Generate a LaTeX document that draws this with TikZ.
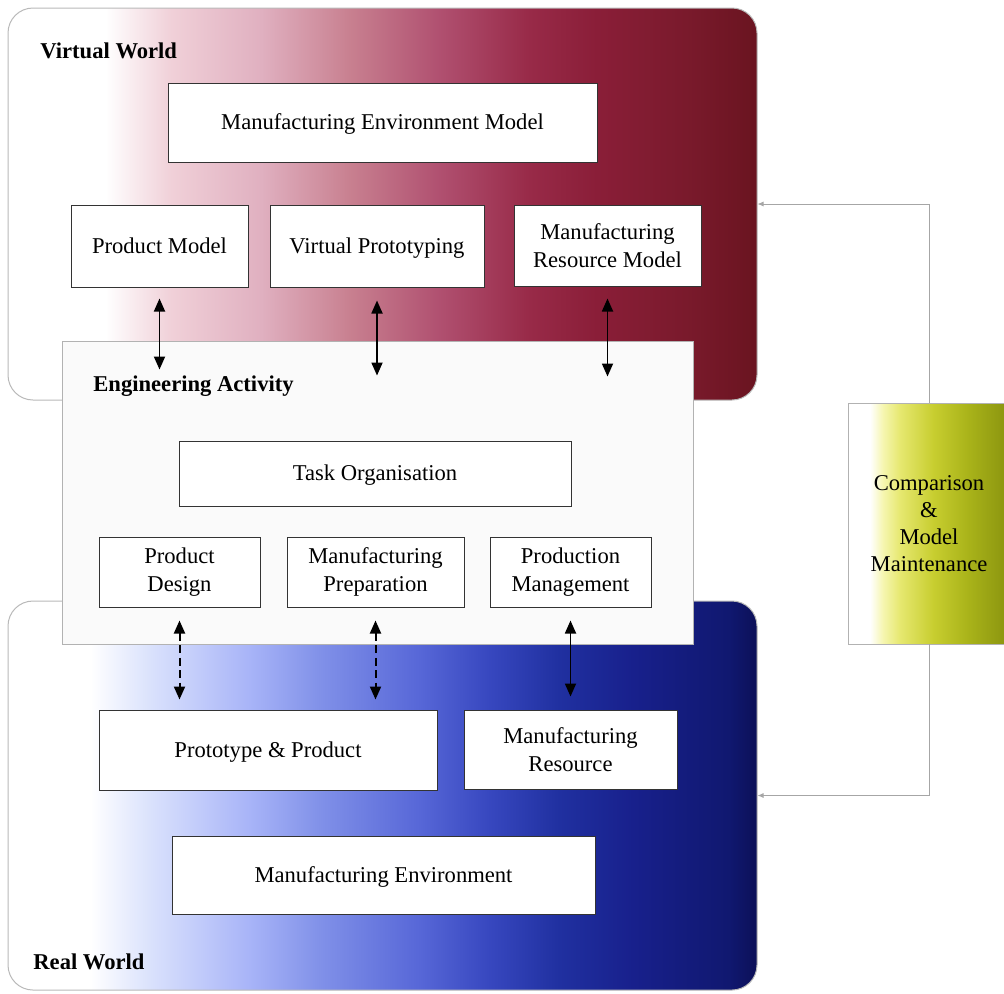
\documentclass[tikz,border=0pt]{standalone}
\usepackage{fontspec}
\setmainfont{Liberation Serif}
\usetikzlibrary{arrows.meta}

% colour ramps of the three shaded panels
\definecolor{vwA}{HTML}{F0D0D8}
\definecolor{vwB}{HTML}{E0B0C0}
\definecolor{vwC}{HTML}{C88090}
\definecolor{vwD}{HTML}{B05070}
\definecolor{vwE}{HTML}{982A48}
\definecolor{vwF}{HTML}{8A1E38}
\definecolor{vwG}{HTML}{7A1A2C}
\definecolor{vwH}{HTML}{6A1420}
\definecolor{rwA}{HTML}{D8E0FC}
\definecolor{rwB}{HTML}{A8B4F8}
\definecolor{rwC}{HTML}{8090E8}
\definecolor{rwD}{HTML}{5868D8}
\definecolor{rwE}{HTML}{3848C0}
\definecolor{rwF}{HTML}{2030A0}
\definecolor{rwG}{HTML}{18208C}
\definecolor{rwH}{HTML}{101870}
\definecolor{rwI}{HTML}{0C1058}
\definecolor{cmA}{HTML}{F6F6B0}
\definecolor{cmB}{HTML}{E6E870}
\definecolor{cmC}{HTML}{C8CE30}
\definecolor{cmD}{HTML}{AAB41A}
\definecolor{cmE}{HTML}{8E9810}
\definecolor{eaFill}{HTML}{FAFAFA}

\pgfdeclarehorizontalshading{virtualshade}{100bp}{color(0bp)=(white); color(31.5bp)=(white);
  color(35.9bp)=(vwA); color(41.9bp)=(vwB); color(47.8bp)=(vwC); color(53.8bp)=(vwD);
  color(59.8bp)=(vwE); color(64.3bp)=(vwF); color(70.2bp)=(vwG); color(75bp)=(vwH); color(100bp)=(vwH)}
\pgfdeclarehorizontalshading{realshade}{100bp}{color(0bp)=(white); color(30.5bp)=(white);
  color(34.7bp)=(rwA); color(41.1bp)=(rwB); color(45.9bp)=(rwC); color(52.3bp)=(rwD);
  color(57bp)=(rwE); color(61.8bp)=(rwF); color(66.7bp)=(rwG); color(73.1bp)=(rwH);
  color(75bp)=(rwI); color(100bp)=(rwI)}
\pgfdeclarehorizontalshading{compshade}{100bp}{color(0bp)=(white); color(31.8bp)=(white);
  color(35.8bp)=(cmA); color(41bp)=(cmB); color(51.2bp)=(cmC); color(61.7bp)=(cmD);
  color(72.8bp)=(cmE); color(100bp)=(cmE)}

\tikzset{
  every node/.style={font=\fontsize{11.3}{14}\selectfont, inner sep=0pt, align=center},
  world/.style={draw=gray!55, line width=0.5pt, rounded corners=12.5pt},
  box/.style={draw=black!80, fill=white, line width=0.5pt},
  oneline/.style={text height=0.95em, text depth=0.22em},
  title/.style={font=\fontsize{11.3}{14}\selectfont\bfseries, anchor=west},
  dbl/.style={{Triangle[length=6.5pt,width=5.5pt]}-{Triangle[length=6.5pt,width=5.5pt]}, line width=0.9pt, black},
  dashline/.style={dash pattern=on 4pt off 2.2pt, line width=1pt},
  feedback/.style={draw=gray!70, line width=0.4pt, -{Latex[length=3pt,width=2.5pt]}},
}

\begin{document}
\begin{tikzpicture}[x=0.5pt, y=-0.5pt]
\useasboundingbox (0,0) rectangle (1004,993);

% the two worlds
\node[world, shading=virtualshade, minimum width=374.5pt, minimum height=196pt] (vw) at (382.5,204) {};
\node[world, shading=realshade, minimum width=374.5pt, minimum height=194.5pt] (rw) at (382.5,795.5) {};
\node[title] (vwt) at (40,51) {Virtual World};
\node[title] (rwt) at (33,962) {Real World};

% comparison panel and its feedback loops
\node[draw=gray!60, line width=0.4pt, shading=compshade, minimum width=81pt, minimum height=120.5pt,
      font=\fontsize{11.3}{13.5}\selectfont] (cmp) at (929,523.5) {Comparison\\\&\\Model\\Maintenance};
\draw[feedback] (cmp.north) |- (vw.east);
\draw[feedback] (cmp.south) |- (rw.east);

% engineering activity layer
\node[draw=gray!60, fill=eaFill, line width=0.5pt, minimum width=315.5pt, minimum height=151.5pt] (ea) at (377.5,492.5) {};
\node[title] (eat) at (93,386) {Engineering Activity};

% virtual world models
\node[box, oneline, minimum width=214.5pt, minimum height=39.5pt] (mem) at (382.5,122.5) {Manufacturing Environment Model};
\node[box, oneline, minimum width=88.5pt, minimum height=41pt] (pm) at (159.5,246) {Product Model};
\node[box, oneline, minimum width=107pt, minimum height=41pt] (vp) at (377,246) {Virtual Prototyping};
\node[box, minimum width=93.5pt, minimum height=40.5pt] (mrm) at (607.5,245.5) {Manufacturing\\Resource Model};

% engineering tasks
\node[box, oneline, minimum width=196pt, minimum height=32.5pt] (to) at (375,473.5) {Task Organisation};
\node[box, minimum width=80.5pt, minimum height=35pt] (pd) at (179.5,572) {Product\\Design};
\node[box, minimum width=88.5pt, minimum height=35pt] (mp) at (375.5,572) {Manufacturing\\Preparation};
\node[box, minimum width=80.5pt, minimum height=35pt] (prm) at (570.5,572) {Production\\Management};

% real world objects
\node[box, oneline, minimum width=169pt, minimum height=40pt] (pp) at (268,750) {Prototype \& Product};
\node[box, minimum width=106.5pt, minimum height=39.5pt] (mr) at (570.5,749.5) {Manufacturing\\Resource};
\node[box, oneline, minimum width=211.5pt, minimum height=39pt] (me) at (383.5,875) {Manufacturing Environment};

% links between the virtual models and the engineering activity
\draw[dbl, shorten <=5.5pt, shorten >=-14.5pt] (pm.south) -- (pm.south |- ea.north);
\draw[dbl, shorten <=6.5pt, shorten >=-17.5pt] (vp.south) -- (vp.south |- ea.north);
\draw[dbl, shorten <=6pt, shorten >=-18pt] (mrm.south) -- (mrm.south |- ea.north);

% links between the engineering activity and the real world
\draw[dbl, dashline, shorten <=6.5pt, shorten >=5pt] (pd.south) -- (pd.south |- pp.north);
\draw[dbl, dashline, shorten <=6.5pt, shorten >=5pt] (mp.south) -- (mp.south |- pp.north);
\draw[dbl, shorten <=6.5pt, shorten >=6.5pt] (prm.south) -- (prm.south |- mr.north);
\end{tikzpicture}
\end{document}
